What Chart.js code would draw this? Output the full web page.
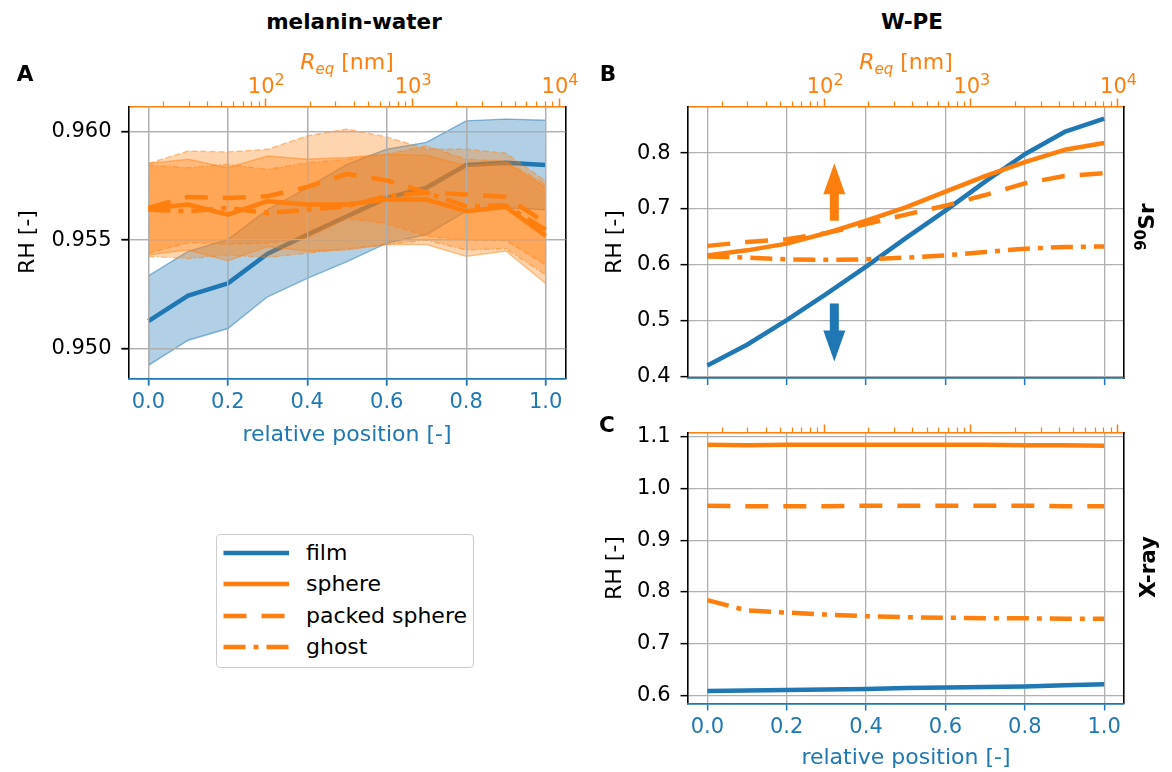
<!DOCTYPE html>
<html>
<head>
<meta charset="utf-8">
<script src="https://cdn.jsdelivr.net/npm/chart.js@4.4.1/dist/chart.umd.min.js"></script>
<style>
  body { margin: 0; background: #fff; width: 1172px; height: 772px; position: relative; overflow: hidden;
         font-family: "DejaVu Sans", sans-serif; }
  canvas { position: absolute; }
  .txt { position: absolute; white-space: nowrap; font-size: 22px; line-height: 22px; }
  .title { font-size: 21.5px; }
  .tick { font-size: 21px; line-height: 21px; }
  .bold { font-weight: bold; }
  .rot { transform: translate(-50%, -50%) rotate(-90deg); }
  .ctr { transform: translateX(-50%); }
  .orange { color: #ff7f0e; }
  .blue { color: #1f77b4; }
  .sub { font-size: 15px; position: relative; top: 5px; }
  .sup { font-size: 15px; position: relative; top: -8px; }
  .sup2 { font-size: 16px; position: relative; top: -8px; }
  #legend { position: absolute; left: 216px; top: 534px; width: 256px; height: 132px;
            border: 1.3px solid #cccccc; border-radius: 4px; background: #fff; }
  #legend .row { position: absolute; left: 0; height: 22px; }
  #legend .row svg { position: absolute; left: 6px; top: 0; }
  #legend .row span { position: absolute; left: 89px; top: 0; font-size: 22px; line-height: 22px; white-space: nowrap; }
</style>
</head>
<body>

<canvas id="chartA" width="580" height="400" style="left:0px;top:50px"></canvas>
<canvas id="chartB" width="582" height="360" style="left:590px;top:50px"></canvas>
<canvas id="chartC" width="582" height="372" style="left:590px;top:400px"></canvas>

<div class="txt title bold ctr" style="left:354px;top:11px">melanin-water</div>
<div class="txt title bold ctr" style="left:912px;top:11px">W-PE</div>

<div class="txt title bold ctr" style="left:25px;top:63px">A</div>
<div class="txt title bold ctr" style="left:608px;top:63px">B</div>
<div class="txt title bold ctr" style="left:607px;top:414px">C</div>

<div class="txt orange ctr" style="left:347px;top:51px"><i>R</i><i class="sub">eq</i> [nm]</div>
<div class="txt orange ctr" style="left:906px;top:51px"><i>R</i><i class="sub">eq</i> [nm]</div>

<div class="txt blue ctr" style="left:347px;top:423px">relative position [-]</div>
<div class="txt blue ctr" style="left:906px;top:746px">relative position [-]</div>

<div class="txt rot" style="left:27px;top:242px">RH [-]</div>
<div class="txt rot" style="left:614px;top:242px">RH [-]</div>
<div class="txt rot" style="left:614px;top:568px">RH [-]</div>

<div class="txt title bold rot" style="left:1148px;top:227px"><span class="sup">90</span>Sr</div>
<div class="txt title bold rot" style="left:1148px;top:567px">X-ray</div>

<div id="legend"></div>
<div id="reqLabels"></div>

<script>
const ORANGE = '#ff7f0e';
const BLUE = '#1f77b4';
const GRID = '#b0b0b0';

// x positions shared by all panels
const positions = [0, 0.1, 0.2, 0.3, 0.4, 0.5, 0.6, 0.7, 0.8, 0.9, 1.0];
const seriesNames = ['film', 'sphere', 'packed sphere', 'ghost'];

// A: melanin-water (mean and band edges)
const mwFilm     = [0.95127, 0.95244, 0.95301, 0.95437, 0.95525, 0.95610, 0.95694, 0.95741, 0.95846, 0.95856, 0.95846];
const mwFilmHi   = [0.95335, 0.95448, 0.95502, 0.95640, 0.95741, 0.95849, 0.95918, 0.95950, 0.96049, 0.96057, 0.96052];
const mwFilmLo   = [0.94923, 0.95039, 0.95093, 0.95239, 0.95324, 0.95401, 0.95486, 0.95525, 0.95633, 0.95648, 0.95640];
const mwSphere   = [0.95645, 0.95664, 0.95617, 0.95679, 0.95664, 0.95664, 0.95687, 0.95687, 0.95633, 0.95653, 0.95520];
const mwSphereHi = [0.95853, 0.95872, 0.95833, 0.95887, 0.95872, 0.95880, 0.95895, 0.95890, 0.95841, 0.95856, 0.95741];
const mwSphereLo = [0.95432, 0.95455, 0.95405, 0.95470, 0.95450, 0.95455, 0.95480, 0.95480, 0.95425, 0.95450, 0.95300];
const mwPacked   = [0.95648, 0.95699, 0.95694, 0.95702, 0.95745, 0.95805, 0.95775, 0.95718, 0.95710, 0.95699, 0.95579];
const mwPackedHi = [0.95853, 0.95910, 0.95906, 0.95918, 0.95980, 0.96011, 0.95975, 0.95918, 0.95918, 0.95900, 0.95772];
const mwPackedLo = [0.95440, 0.95488, 0.95482, 0.95486, 0.95510, 0.95600, 0.95575, 0.95518, 0.95500, 0.95498, 0.95386];
const mwGhost    = [0.95640, 0.95633, 0.95648, 0.95625, 0.95640, 0.95656, 0.95702, 0.95718, 0.95656, 0.95659, 0.95548];
const mwGhostHi  = [0.95846, 0.95833, 0.95849, 0.95826, 0.95856, 0.95872, 0.95895, 0.95934, 0.95872, 0.95864, 0.95756];
const mwGhostLo  = [0.95425, 0.95415, 0.95430, 0.95420, 0.95440, 0.95460, 0.95480, 0.95500, 0.95455, 0.95460, 0.95340];

// B: W-PE, 90Sr
const srFilm   = [0.420, 0.457, 0.501, 0.548, 0.597, 0.648, 0.697, 0.749, 0.798, 0.838, 0.862];
const srSphere = [0.617, 0.626, 0.638, 0.657, 0.679, 0.703, 0.731, 0.759, 0.784, 0.806, 0.818];
const srPacked = [0.634, 0.641, 0.646, 0.657, 0.673, 0.690, 0.706, 0.725, 0.746, 0.759, 0.764];
const srGhost  = [0.615, 0.613, 0.610, 0.609, 0.610, 0.613, 0.617, 0.623, 0.629, 0.632, 0.633];

// C: W-PE, X-ray
const xrFilm   = [0.608, 0.609, 0.610, 0.611, 0.612, 0.614, 0.615, 0.616, 0.617, 0.619, 0.621];
const xrSphere = [1.085, 1.084, 1.085, 1.085, 1.085, 1.085, 1.085, 1.085, 1.084, 1.084, 1.083];
const xrPacked = [0.967, 0.966, 0.966, 0.966, 0.967, 0.967, 0.967, 0.967, 0.967, 0.966, 0.966];
const xrGhost  = [0.784, 0.764, 0.760, 0.756, 0.753, 0.751, 0.750, 0.749, 0.749, 0.748, 0.748];

// arrows in panel B (data coords)
const arrowX = [0.32, 0.32];
const arrowFrom = [0.679, 0.531];
const arrowTo = [0.782, 0.427];

// axis ranges and ticks
const xRange = [-0.05, 1.05];
const rangeA = [0.94863, 0.96115];
const rangeB = [0.3975, 0.8835];
const rangeC = [0.5839, 1.1086];
const reqRange = [11.7, 11070];

const xTicks = [0, 0.2, 0.4, 0.6, 0.8, 1.0];
const xTickLabels = ['0.0', '0.2', '0.4', '0.6', '0.8', '1.0'];
const yTicksA = [0.950, 0.955, 0.960];
const yTickLabelsA = ['0.950', '0.955', '0.960'];
const yTicksB = [0.4, 0.5, 0.6, 0.7, 0.8];
const yTickLabelsB = ['0.4', '0.5', '0.6', '0.7', '0.8'];
const yTicksC = [0.6, 0.7, 0.8, 0.9, 1.0, 1.1];
const yTickLabelsC = ['0.6', '0.7', '0.8', '0.9', '1.0', '1.1'];
const reqTicks = [100, 1000, 10000];
const reqTickExp = ['2', '3', '4'];
const reqMinorTicks = [20, 30, 40, 50, 60, 70, 80, 90, 200, 300, 400, 500, 600, 700, 800, 900,
                       2000, 3000, 4000, 5000, 6000, 7000, 8000, 9000];

// line styles
const seriesColors = [BLUE, ORANGE, ORANGE, ORANGE];
const seriesDash = [[], [], [23, 15], [22, 8, 5, 8]];
const edgeDash = [[], [], [6, 3], [6, 2.5, 1.5, 2.5]];

Chart.defaults.font.family = '"DejaVu Sans", sans-serif';
Chart.defaults.font.size = 21;
Chart.defaults.color = '#000';

function pts(arr) {
  return positions.map((p, i) => ({ x: p, y: arr[i] }));
}

function meanLine(arr, k) {
  return {
    label: seriesNames[k], data: pts(arr), borderColor: seriesColors[k], borderWidth: 4.5,
    borderDash: seriesDash[k], pointRadius: 0, tension: 0, fill: false,
    borderJoinStyle: 'round', borderCapStyle: 'butt'
  };
}

function band(hi, lo, k, fillCol, edgeCol) {
  return [
    { data: pts(hi), borderColor: edgeCol, borderWidth: 1.4, borderDash: edgeDash[k],
      backgroundColor: fillCol, fill: '+1', pointRadius: 0, tension: 0 },
    { data: pts(lo), borderColor: edgeCol, borderWidth: 1.4, borderDash: edgeDash[k],
      pointRadius: 0, tension: 0, fill: false }
  ];
}

function makeScales(cfg) {
  return {
    x: {
      axis: 'x', type: 'linear', position: 'bottom', bounds: 'data', min: xRange[0], max: xRange[1],
      afterBuildTicks: s => { s.ticks = xTicks.map(v => ({ value: v })); },
      afterFit: s => { s.height = cfg.bottom; },
      grid: { color: GRID, lineWidth: 1.3, tickColor: BLUE, tickLength: 7, tickWidth: 1.5 },
      border: { color: BLUE, width: 1.6 },
      ticks: { display: cfg.xLabels, color: BLUE, padding: 7, autoSkip: false, maxRotation: 0,
               font: { size: 21, lineHeight: 1 }, callback: (v, i) => xTickLabels[i] }
    },
    req: {
      axis: 'x', type: 'logarithmic', position: 'top', bounds: 'data', min: reqRange[0], max: reqRange[1],
      afterBuildTicks: s => { s.ticks = reqTicks.map(v => ({ value: v, major: true })); },
      afterFit: s => { s.height = cfg.top; },
      grid: { drawOnChartArea: false, tickColor: ORANGE, tickLength: 8, tickWidth: 1.5 },
      border: { color: ORANGE, width: 1.6 },
      ticks: { display: false }
    },
    y: {
      axis: 'y', type: 'linear', position: 'left', bounds: 'data', min: cfg.range[0], max: cfg.range[1],
      afterBuildTicks: s => { s.ticks = cfg.yTicks.map(v => ({ value: v })); },
      afterFit: s => { s.width = cfg.left; },
      grid: { color: GRID, lineWidth: 1.3, tickColor: '#000', tickLength: 7, tickWidth: 1.5 },
      border: { color: '#000', width: 1.6 },
      ticks: { color: '#000', padding: 10, font: { size: 21 }, callback: (v, i) => cfg.yLabels[i] }
    },
    yr: {
      axis: 'y', type: 'linear', position: 'right', bounds: 'data', min: cfg.range[0], max: cfg.range[1],
      afterFit: s => { s.width = cfg.right; },
      grid: { drawOnChartArea: false, drawTicks: false },
      border: { color: '#000', width: 1.6 },
      ticks: { display: false }
    }
  };
}

// short log minor ticks on the top axis, and the bottom spine kept above the last gridline
const minorTicks = {
  id: 'minorTicks',
  afterDraw(chart) {
    const s = chart.scales.req;
    const ctx = chart.ctx;
    ctx.save();
    ctx.strokeStyle = ORANGE;
    ctx.lineWidth = 1.2;
    ctx.beginPath();
    reqMinorTicks.forEach(v => {
      const x = Math.round(s.getPixelForValue(v)) + 0.5;
      ctx.moveTo(x, s.bottom);
      ctx.lineTo(x, s.bottom - 5);
    });
    ctx.stroke();
    ctx.restore();
    if (chart.scales.x.drawBorder) chart.scales.x.drawBorder();
  }
};

// grid above the bands but under the orange mean lines
const regrid = {
  id: 'regrid',
  beforeDatasetDraw(chart, args, opts) {
    if (opts.index === undefined || args.index !== opts.index) return;
    chart.scales.x.drawGrid(chart.chartArea);
    chart.scales.y.drawGrid(chart.chartArea);
  }
};

const arrows = {
  id: 'arrows',
  afterDatasetsDraw(chart, args, opts) {
    if (!opts.show) return;
    const ctx = chart.ctx;
    const sx = chart.scales.x, sy = chart.scales.y;
    const cols = [ORANGE, BLUE];
    arrowX.forEach((xv, i) => {
      const x = sx.getPixelForValue(xv);
      const y0 = sy.getPixelForValue(arrowFrom[i]);
      const y1 = sy.getPixelForValue(arrowTo[i]);
      const dir = y1 > y0 ? 1 : -1;
      const yb = y1 - dir * 31;
      ctx.save();
      ctx.fillStyle = cols[i];
      ctx.beginPath();
      ctx.moveTo(x - 4.5, y0);
      ctx.lineTo(x + 4.5, y0);
      ctx.lineTo(x + 4.5, yb);
      ctx.lineTo(x + 11, yb);
      ctx.lineTo(x, y1);
      ctx.lineTo(x - 11, yb);
      ctx.lineTo(x - 4.5, yb);
      ctx.closePath();
      ctx.fill();
      ctx.restore();
    });
  }
};

function baseOptions(scales, extra) {
  return {
    responsive: false,
    animation: false,
    events: [],
    layout: { padding: 0, autoPadding: false },
    scales: scales,
    plugins: Object.assign({
      legend: { display: false },
      tooltip: { enabled: false },
      filler: { drawTime: 'beforeDatasetDraw' }
    }, extra)
  };
}

const ORANGE_FILL = 'rgba(255,127,14,0.33)';
const ORANGE_EDGE = 'rgba(255,127,14,0.45)';
const BLUE_FILL = 'rgba(31,119,180,0.35)';
const BLUE_EDGE = 'rgba(31,119,180,0.5)';

// Panel A
const chartA = new Chart(document.getElementById('chartA'), {
  type: 'line',
  data: {
    datasets: [
      meanLine(mwSphere, 1),
      meanLine(mwPacked, 2),
      meanLine(mwGhost, 3),
      ...band(mwSphereHi, mwSphereLo, 1, ORANGE_FILL, ORANGE_EDGE),
      ...band(mwPackedHi, mwPackedLo, 2, ORANGE_FILL, ORANGE_EDGE),
      ...band(mwGhostHi, mwGhostLo, 3, ORANGE_FILL, ORANGE_EDGE),
      meanLine(mwFilm, 0),
      ...band(mwFilmHi, mwFilmLo, 0, BLUE_FILL, BLUE_EDGE)
    ]
  },
  options: baseOptions(makeScales({
    range: rangeA, yTicks: yTicksA, yLabels: yTickLabelsA,
    left: 128.5, right: 14.5, top: 56.5, bottom: 71.5, xLabels: true
  }), { regrid: { index: 2 }, arrows: { show: false } }),
  plugins: [minorTicks, regrid, arrows]
});

// Panel B
const chartB = new Chart(document.getElementById('chartB'), {
  type: 'line',
  data: {
    datasets: [
      meanLine(srSphere, 1),
      meanLine(srPacked, 2),
      meanLine(srGhost, 3),
      meanLine(srFilm, 0)
    ]
  },
  options: baseOptions(makeScales({
    range: rangeB, yTicks: yTicksB, yLabels: yTickLabelsB,
    left: 97.5, right: 48, top: 56.5, bottom: 32, xLabels: false
  }), { arrows: { show: true } }),
  plugins: [minorTicks, arrows]
});

// Panel C
new Chart(document.getElementById('chartC'), {
  type: 'line',
  data: {
    datasets: [
      meanLine(xrSphere, 1),
      meanLine(xrPacked, 2),
      meanLine(xrGhost, 3),
      meanLine(xrFilm, 0)
    ]
  },
  options: baseOptions(makeScales({
    range: rangeC, yTicks: yTicksC, yLabels: yTickLabelsC,
    left: 97.5, right: 48, top: 32.5, bottom: 68.5, xLabels: true
  }), { arrows: { show: false } }),
  plugins: [minorTicks, arrows]
});

// top axis labels 10^n, placed from the chart's log scale
let reqHtml = '';
[chartA, chartB].forEach(ch => {
  const s = ch.scales.req;
  const left = parseFloat(ch.canvas.style.left);
  const top = parseFloat(ch.canvas.style.top);
  reqTicks.forEach((v, i) => {
    const x = left + s.getPixelForValue(v);
    const y = top + s.bottom - 31;
    reqHtml += `<div class="txt tick orange ctr" style="left:${x + 1}px;top:${y}px">10<span class="sup2">${reqTickExp[i]}</span></div>`;
  });
});
document.getElementById('reqLabels').innerHTML = reqHtml;

// legend box
const legendRows = [17.7, 49, 81, 112];
document.getElementById('legend').innerHTML = seriesNames.map((name, k) => `
  <div class="row" style="top:${legendRows[k] - 11}px">
    <svg width="70" height="22"><line x1="0.5" y1="11" x2="66" y2="11" stroke="${seriesColors[k]}"
      stroke-width="4.5" stroke-dasharray="${seriesDash[k].join(' ') || 'none'}"/></svg>
    <span>${name}</span>
  </div>`).join('');
</script>
</body>
</html>
